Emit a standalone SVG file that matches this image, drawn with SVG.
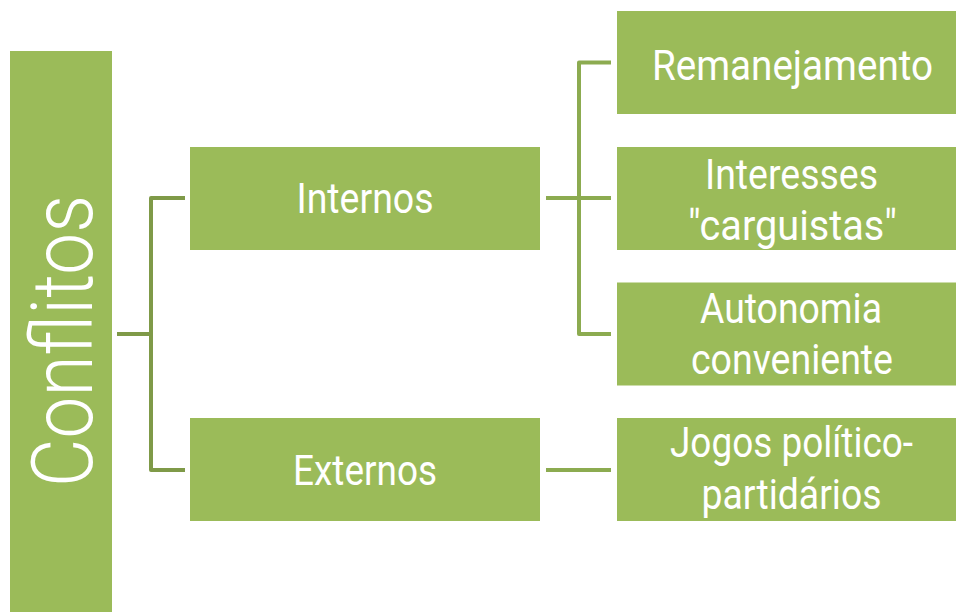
<svg xmlns="http://www.w3.org/2000/svg" width="956" height="612" viewBox="0 0 956 612">
<style>
.box{fill:#9BBB59;}
.t{fill:#FFFFFF;font-family:Roboto,"Liberation Sans",sans-serif;font-weight:400;font-size:42px;text-anchor:middle;}
.big{font-size:86px;font-weight:300;}
.cl{fill:none;stroke:#7F9A48;stroke-width:4;stroke-linejoin:round;}
.cr{fill:none;stroke:#8CAB50;stroke-width:4;stroke-linejoin:round;}
</style>
<rect width="956" height="612" fill="#FFFFFF"/>
<g id="connectors">
<path class="cl" d="M117,334 H151"/>
<path class="cl" d="M185,198 H151 V470 H185"/>
<path class="cr" d="M546,198 H611"/>
<path class="cr" d="M611,62.5 H579 V334 H611"/>
<path class="cr" d="M546,470 H611"/>
</g>
<g id="conflitos">
<rect class="box" x="10" y="51" width="102" height="561"/>
<text class="t big" transform="translate(91.5,341) rotate(-90)" x="0" y="0" textLength="292" lengthAdjust="spacingAndGlyphs">Conflitos</text>
</g>
<g id="internos">
<rect class="box" x="190" y="147" width="350" height="103"/>
<text class="t" x="365" y="213" textLength="137" lengthAdjust="spacingAndGlyphs">Internos</text>
</g>
<g id="externos">
<rect class="box" x="190" y="418" width="350" height="103"/>
<text class="t" x="365" y="485" textLength="144" lengthAdjust="spacingAndGlyphs">Externos</text>
</g>
<g id="remanejamento">
<rect class="box" x="617" y="11" width="339" height="103"/>
<text class="t" x="792.5" y="80" textLength="281" lengthAdjust="spacingAndGlyphs">Remanejamento</text>
</g>
<g id="interesses">
<rect class="box" x="617" y="147" width="339" height="103"/>
<text class="t" x="791.5" y="188.5" textLength="173" lengthAdjust="spacingAndGlyphs">Interesses</text>
<text class="t" x="792.5" y="239.5" textLength="209" lengthAdjust="spacingAndGlyphs">"carguistas"</text>
</g>
<g id="autonomia">
<rect class="box" x="617" y="282.5" width="339" height="103"/>
<text class="t" x="791" y="323" textLength="182" lengthAdjust="spacingAndGlyphs">Autonomia</text>
<text class="t" x="792" y="373.5" textLength="202" lengthAdjust="spacingAndGlyphs">conveniente</text>
</g>
<g id="jogos">
<rect class="box" x="617" y="418" width="339" height="103"/>
<text class="t" x="791.5" y="457" textLength="243" lengthAdjust="spacingAndGlyphs">Jogos político-</text>
<text class="t" x="791.5" y="509" textLength="180" lengthAdjust="spacingAndGlyphs">partidários</text>
</g>
</svg>
